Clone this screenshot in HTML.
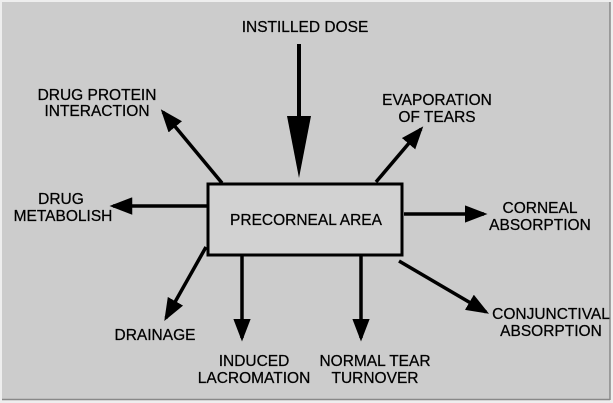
<!DOCTYPE html>
<html><head><style>
html,body{margin:0;padding:0;background:#eeeeee;}
svg{display:block;}
text{font-family:"Liberation Sans",Arial,sans-serif;font-size:15.5px;fill:#000;stroke:#000;stroke-width:0.25;text-anchor:middle;}
</style></head><body>
<svg width="613" height="403" viewBox="0 0 613 403" xmlns="http://www.w3.org/2000/svg">
<defs>
<marker id="ah" markerWidth="6.5" markerHeight="5" refX="5.5" refY="2.5" orient="auto" markerUnits="strokeWidth">
<path d="M0,0 L6.5,2.5 L0,5 Z" fill="#000"/>
</marker>
</defs>
<rect x="2" y="2" width="608" height="397" fill="#cccccc"/>
<line x1="2" y1="399.5" x2="610" y2="399.5" stroke="#888" stroke-width="1.5"/>
<line x1="610" y1="2" x2="610" y2="400" stroke="#888" stroke-width="1.5"/>
<rect x="208" y="184" width="194" height="71" fill="#d2d2d2" stroke="#000" stroke-width="3"/>
<text x="306" y="225">PRECORNEAL AREA</text>
<line x1="299" y1="44" x2="299" y2="120" stroke="#000" stroke-width="4"/>
<path d="M287,116 L311,116 L299,178 Z" fill="#000"/>
<g stroke="#000" stroke-width="3.5" fill="none" marker-end="url(#ah)">
<line x1="222" y1="183" x2="163" y2="112"/>
<line x1="376" y1="182" x2="421" y2="129"/>
<line x1="207" y1="206" x2="113" y2="206"/>
<line x1="404" y1="214" x2="484" y2="214"/>
<line x1="399" y1="261" x2="486" y2="312"/>
<line x1="206" y1="247" x2="166" y2="318"/>
<line x1="242" y1="256" x2="242" y2="338"/>
<line x1="361" y1="256" x2="361" y2="338"/>
</g>
<text x="305" y="32">INSTILLED DOSE</text>
<text x="97" y="100">DRUG PROTEIN</text>
<text x="97" y="116">INTERACTION</text>
<text x="437" y="105">EVAPORATION</text>
<text x="437" y="122">OF TEARS</text>
<text x="61" y="204">DRUG</text>
<text x="63" y="221">METABOLISH</text>
<text x="540" y="213">CORNEAL</text>
<text x="540" y="230">ABSORPTION</text>
<text x="551" y="319">CONJUNCTIVAL</text>
<text x="551" y="336">ABSORPTION</text>
<text x="155" y="340">DRAINAGE</text>
<text x="254" y="366">INDUCED</text>
<text x="254" y="383">LACROMATION</text>
<text x="375" y="366">NORMAL TEAR</text>
<text x="375" y="383">TURNOVER</text>
</svg>
</body></html>
